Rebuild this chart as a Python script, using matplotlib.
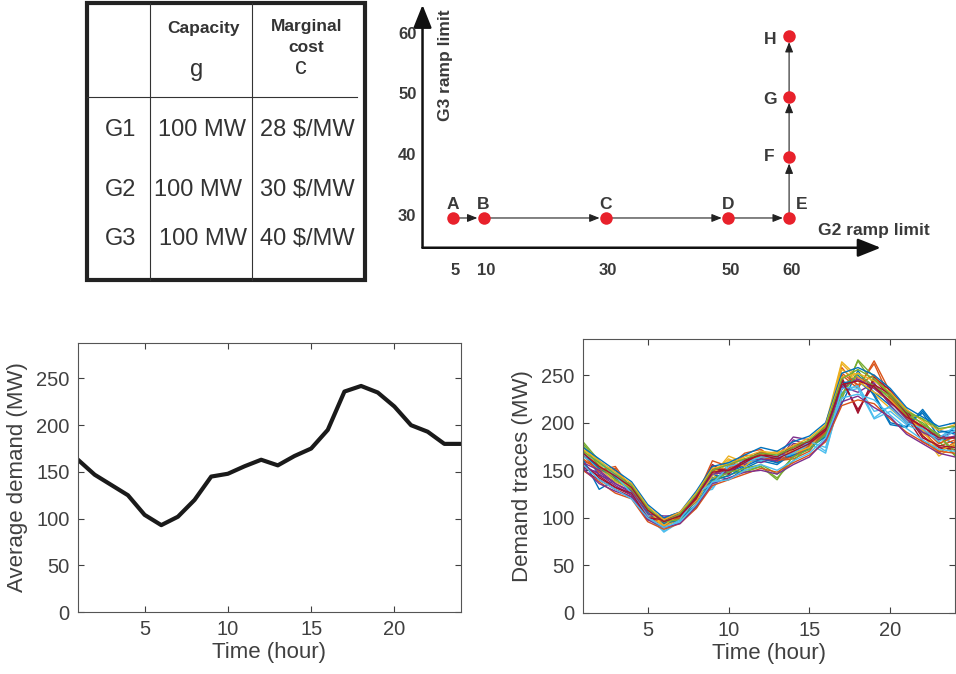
import matplotlib
matplotlib.use("Agg")
import matplotlib.pyplot as plt

plt.rcParams['font.family'] = ['Liberation Sans', 'DejaVu Sans']

# --- table data ---
gen_names = ["G1", "G2", "G3"]
capacity = ["100 MW", "100 MW", "100 MW"]
marg_cost = ["28 $/MW", "30 $/MW", "40 $/MW"]

# --- ramp limit path ---
ramp_labels = ["A", "B", "C", "D", "E", "F", "G", "H"]
g2_ramp = [5, 10, 30, 50, 60, 60, 60, 60]
g3_ramp = [30, 30, 30, 30, 30, 40, 50, 60]
ramp_xticks = [5, 10, 30, 50, 60]
ramp_yticks = [30, 40, 50, 60]

# --- average demand ---
hours = list(range(1, 25))
avg_demand = [163, 147, 136, 125, 104, 93, 102, 120, 145, 148, 156, 163,
              157, 167, 175, 195, 236, 242, 235, 220, 200, 193, 180, 180]

# --- demand traces ---
trace01 = [170, 145, 138, 132, 108, 92, 98, 118, 142, 148, 155, 165, 158, 170, 172, 188, 238, 250, 232, 218, 200, 210, 185, 178]
trace02 = [160, 152, 150, 128, 102, 96, 102, 122, 148, 152, 160, 168, 162, 165, 178, 192, 258, 238, 262, 225, 208, 190, 175, 182]
trace03 = [175, 155, 142, 130, 110, 90, 104, 116, 140, 160, 162, 160, 165, 172, 180, 195, 262, 245, 230, 215, 200, 198, 178, 185]
trace04 = [152, 148, 136, 126, 104, 100, 98, 124, 150, 150, 156, 170, 158, 182, 176, 190, 235, 248, 238, 220, 210, 192, 185, 190]
trace05 = [178, 158, 144, 134, 106, 94, 102, 112, 138, 145, 150, 154, 140, 166, 174, 186, 228, 265, 240, 225, 212, 198, 188, 165]
trace06 = [168, 150, 146, 128, 100, 86, 96, 126, 130, 155, 158, 162, 168, 164, 182, 170, 230, 240, 205, 218, 202, 192, 182, 195]
trace07 = [158, 142, 132, 124, 100, 98, 104, 120, 152, 148, 158, 166, 164, 172, 180, 194, 245, 212, 245, 228, 206, 180, 172, 176]
trace08 = [162, 130, 140, 136, 112, 94, 100, 118, 146, 140, 152, 160, 156, 168, 174, 185, 220, 255, 228, 198, 195, 212, 190, 192]
trace09 = [166, 148, 152, 126, 100, 92, 98, 122, 160, 154, 168, 172, 160, 162, 170, 192, 250, 236, 265, 232, 208, 196, 168, 180]
trace10 = [172, 152, 138, 130, 106, 90, 100, 120, 144, 165, 158, 166, 170, 170, 178, 198, 264, 248, 236, 222, 204, 188, 165, 176]
trace11 = [155, 146, 134, 124, 102, 100, 106, 118, 148, 146, 162, 158, 164, 185, 182, 190, 238, 232, 242, 218, 200, 196, 186, 184]
trace12 = [180, 160, 142, 132, 108, 96, 100, 112, 140, 150, 148, 154, 142, 160, 176, 190, 225, 266, 248, 230, 210, 204, 180, 166]
trace13 = [164, 156, 148, 130, 104, 85, 96, 124, 132, 158, 160, 160, 166, 166, 178, 168, 232, 236, 204, 212, 198, 190, 184, 196]
trace14 = [150, 140, 130, 122, 98, 98, 104, 122, 156, 146, 160, 170, 162, 174, 180, 196, 248, 210, 248, 234, 214, 186, 174, 172]
trace15 = [168, 152, 142, 128, 106, 94, 98, 114, 140, 144, 154, 162, 158, 166, 172, 188, 242, 244, 230, 200, 196, 214, 192, 188]
trace16 = [162, 150, 154, 130, 102, 96, 100, 124, 150, 152, 166, 164, 160, 164, 176, 190, 252, 240, 250, 226, 206, 194, 178, 186]
trace17 = [170, 156, 140, 132, 108, 92, 104, 118, 146, 162, 154, 168, 168, 168, 174, 196, 256, 244, 232, 224, 206, 192, 170, 178]
trace18 = [158, 150, 136, 128, 104, 102, 102, 122, 146, 148, 160, 162, 160, 178, 178, 192, 236, 246, 236, 222, 204, 190, 182, 186]
trace19 = [176, 154, 140, 130, 110, 96, 98, 110, 138, 148, 152, 156, 146, 164, 172, 188, 230, 252, 238, 228, 208, 200, 186, 170]
trace20 = [166, 160, 144, 126, 102, 88, 98, 126, 136, 154, 158, 164, 164, 168, 180, 174, 236, 238, 212, 216, 200, 194, 180, 192]
trace21 = [154, 144, 132, 126, 100, 98, 102, 120, 152, 150, 158, 168, 164, 176, 180, 194, 244, 214, 240, 230, 210, 184, 176, 174]
trace22 = [174, 162, 150, 138, 114, 100, 106, 128, 154, 158, 166, 174, 170, 180, 186, 200, 252, 258, 250, 236, 216, 206, 196, 200]
trace23 = [150, 138, 126, 120, 96, 88, 94, 110, 134, 140, 146, 152, 148, 158, 166, 180, 218, 224, 220, 204, 190, 180, 170, 168]
trace24 = [172, 160, 148, 136, 112, 98, 106, 126, 152, 156, 164, 170, 168, 176, 184, 198, 248, 252, 244, 232, 214, 202, 192, 198]
trace25 = [152, 136, 128, 122, 98, 90, 94, 112, 136, 142, 148, 150, 146, 156, 164, 182, 222, 228, 216, 206, 188, 178, 168, 164]
trace26 = [170, 158, 146, 134, 110, 96, 104, 124, 150, 156, 162, 168, 166, 174, 182, 196, 246, 256, 246, 230, 212, 204, 194, 196]
trace27 = [156, 140, 130, 120, 100, 90, 96, 114, 138, 140, 150, 156, 150, 160, 168, 184, 226, 230, 224, 208, 194, 182, 172, 170]
trace28 = [168, 154, 144, 132, 108, 96, 102, 122, 148, 150, 160, 166, 162, 170, 178, 192, 240, 244, 238, 222, 206, 196, 184, 184]
traces = [trace01, trace02, trace03, trace04, trace05, trace06, trace07,
          trace08, trace09, trace10, trace11, trace12, trace13, trace14,
          trace15, trace16, trace17, trace18, trace19, trace20, trace21,
          trace22, trace23, trace24, trace25, trace26, trace27, trace28]

matlab_colors = ['#0072BD', '#D95319', '#EDB120', '#7E2F8E', '#77AC30', '#4DBEEE', '#A2142F']

W, H = 956, 674
fig = plt.figure(figsize=(W / 100, H / 100), dpi=100)


def px_axes(x0, y0, x1, y1):
    # axes from pixel box (top-left origin)
    return fig.add_axes([x0 / W, 1 - y1 / H, (x1 - x0) / W, (y1 - y0) / H])


# ---------------- table ----------------
tc = '#333333'
ax_t = px_axes(80, 0, 372, 290)
ax_t.set_xlim(80, 372)
ax_t.set_ylim(290, 0)
ax_t.axis('off')
ax_t.add_patch(plt.Rectangle((87, 3), 278, 277, fill=False, lw=3, ec='#222222'))
ax_t.plot([150, 150], [3, 280], color='#333333', lw=0.8)
ax_t.plot([252, 252], [3, 280], color='#333333', lw=0.8)
ax_t.plot([87, 357], [97, 97], color='#333333', lw=0.8)
ax_t.text(203, 28, "Capacity", ha='center', va='center', fontsize=12.5, fontweight='bold', color=tc)
ax_t.text(197, 70, "g", ha='center', va='center', fontsize=17, color=tc)
ax_t.text(307, 27, "Marginal", ha='center', va='center', fontsize=12.5, fontweight='bold', color=tc)
ax_t.text(306, 47, "cost", ha='center', va='center', fontsize=12.5, fontweight='bold', color=tc)
ax_t.text(301, 68, "c", ha='center', va='center', fontsize=17, color=tc)
row_y = [130, 190, 239]
cap_x = [202, 198, 203]
for i in range(3):
    ax_t.text(121, row_y[i], gen_names[i], ha='center', va='center', fontsize=17, color=tc)
    ax_t.text(cap_x[i], row_y[i], capacity[i], ha='center', va='center', fontsize=17, color=tc)
    ax_t.text(307, row_y[i], marg_cost[i], ha='center', va='center', fontsize=17, color=tc)

# ---------------- ramp diagram ----------------
rc = '#3a3a3a'
ax_r = px_axes(380, 0, 940, 290)
ax_r.set_xlim(-6.96, 84.7)
ax_r.set_ylim(18.14, 65.9)
ax_r.axis('off')
y_axis0 = 25.1
ax_r.annotate('', xy=(75, y_axis0), xytext=(0, y_axis0),
              arrowprops=dict(arrowstyle='-|>,head_length=0.7,head_width=0.28',
                              mutation_scale=20, lw=1.8, color='#111111', shrinkA=0, shrinkB=0))
ax_r.annotate('', xy=(0, 65.1), xytext=(0, y_axis0),
              arrowprops=dict(arrowstyle='-|>,head_length=0.7,head_width=0.28',
                              mutation_scale=20, lw=1.8, color='#111111', shrinkA=0, shrinkB=0))
for i in range(len(g2_ramp) - 1):
    ax_r.annotate('', xy=(g2_ramp[i + 1], g3_ramp[i + 1]), xytext=(g2_ramp[i], g3_ramp[i]),
                  arrowprops=dict(arrowstyle='-|>,head_length=0.5,head_width=0.2',
                                  mutation_scale=12, lw=0.8, color='#222222',
                                  shrinkA=0, shrinkB=4.5), zorder=2)
ax_r.plot(g2_ramp, g3_ramp, 'o', color='#e8212b', ms=9, mec='none', zorder=3)
lab_off = {"A": (0, 2.2), "B": (0, 2.2), "C": (0, 2.2), "D": (0, 2.2),
           "E": (2.0, 2.2), "F": (-3.3, 0.2), "G": (-3.1, -0.5), "H": (-3.1, -0.6)}
for lab, x, y in zip(ramp_labels, g2_ramp, g3_ramp):
    dx, dy = lab_off[lab]
    ax_r.text(x + dx, y + dy, lab, ha='center', va='center', fontsize=12.5,
              fontweight='bold', color=rc)
for v in ramp_xticks:
    ax_r.text(v + 0.4, 21.4, str(v), ha='center', va='center', fontsize=12,
              fontweight='bold', color=rc)
for v in ramp_yticks:
    ax_r.text(-1.0, v + 0.3, str(v), ha='right', va='center', fontsize=12,
              fontweight='bold', color=rc)
ax_r.text(73.9, 28.0, "G2 ramp limit", ha='center', va='center', fontsize=12.5,
          fontweight='bold', color=rc)
ax_r.text(3.7, 55.2, "G3 ramp limit", ha='center', va='center', fontsize=12.5,
          fontweight='bold', color=rc, rotation=90)

# ---------------- bottom plots ----------------
gc = '#404040'


def style_matlab(ax, ylabel):
    ax.set_xlim(1, 24)
    ax.set_ylim(0, 288)
    ax.set_xticks([5, 10, 15, 20])
    ax.set_yticks([0, 50, 100, 150, 200, 250])
    ax.tick_params(direction='in', top=True, right=True, length=4, width=0.8,
                   labelsize=14.5, colors=gc, pad=6)
    for s in ax.spines.values():
        s.set_color('#555555')
        s.set_linewidth(0.8)
    ax.set_xlabel("Time (hour)", fontsize=16, color=gc, labelpad=2)
    ax.set_ylabel(ylabel, fontsize=16, color=gc, labelpad=6)


ax_a = px_axes(78, 343, 461, 612)
ax_a.plot(hours, avg_demand, color='#1a1a1a', lw=3)
style_matlab(ax_a, "Average demand (MW)")

ax_d = px_axes(583, 339, 955, 613)
for k, tr in enumerate(traces):
    ax_d.plot(hours, tr, color=matlab_colors[k % 7], lw=1.0)
style_matlab(ax_d, "Demand traces (MW)")

fig.savefig("out.png", dpi=100)
